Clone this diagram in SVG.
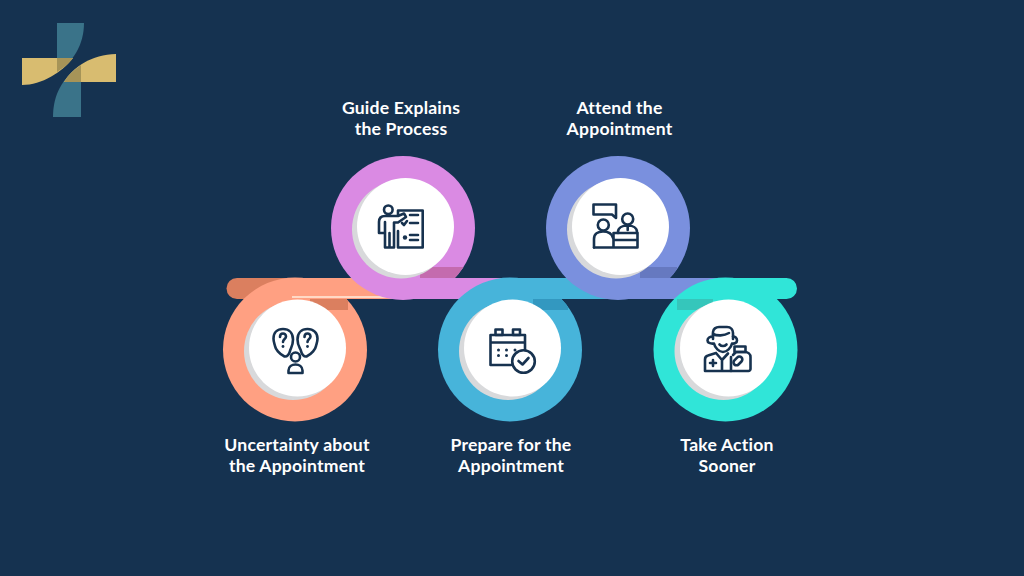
<svg xmlns="http://www.w3.org/2000/svg" width="1024" height="576" viewBox="0 0 1024 576">
<style>
.lbl{font-family:"Lato","Liberation Sans",sans-serif;font-weight:700;font-size:17.6px;letter-spacing:.2px;fill:#fff;text-anchor:middle}
.i{fill:none;stroke:#17324f;stroke-width:2.6;stroke-linecap:round;stroke-linejoin:round}
.d{fill:#17324f}
.sh{fill:#d8d9db}
.wh{fill:#fff}
</style>
<defs>
<clipPath id="c1"><circle cx="295" cy="349.5" r="72"/></clipPath>
<clipPath id="c2"><circle cx="403" cy="228" r="72"/></clipPath>
<clipPath id="c3"><circle cx="510" cy="349.5" r="72"/></clipPath>
<clipPath id="c4"><circle cx="618" cy="228" r="72"/></clipPath>
<clipPath id="c5"><circle cx="725.5" cy="349.5" r="72"/></clipPath>
</defs>
<rect width="1024" height="576" fill="#153250"/>
<g id="logo">
<path d="M57,23H84C84,45 73,62 57,72Z" fill="#3a7389"/>
<path d="M81,117H53C53,95 62,78 81,65Z" fill="#3a7389"/>
<path d="M22,58H73C62,72 42,85 22,85Z" fill="#d8bc70"/>
<path d="M116,54V82H64C72,68 92,54 116,54Z" fill="#d8bc70"/>
<path d="M57,58H73C68,65 63,68 57,72Z" fill="#a69458"/>
<path d="M81,65V82H64C68,75 74,70 81,65Z" fill="#a69458"/>
</g>
<g id="connectors">
<path d="M237,278H300V299H237A10.500,10.500 0 0 1 237,278Z" fill="#db7f5f"/>
</g>
<g id="node-uncertainty">
<circle cx="295" cy="349.500" r="72" fill="#ffa082"/>
<rect x="295" y="278" width="110" height="21" fill="#ffa082"/>
<rect x="292" y="296" width="110" height="2" fill="#ffd9c6"/>
<rect x="310" y="299" width="38" height="11" fill="#db7f5f" clip-path="url(#c1)"/>
<circle class="sh" cx="293" cy="351" r="49"/>
<circle class="wh" cx="297.500" cy="348" r="48.500"/>
<path class="i" d="M283,329C277,329 273.500,333 273.500,338.500C273.500,342 274.500,344 275,346C275.500,349 279,354 284.500,356.500C287,357 289.500,354 290,351C290.500,348.500 293,346 293,339.500C293,333 289,329 283,329Z"/>
<path class="i" d="M307.500,329C313.500,329 317.500,333 317.500,338.500C317.500,342 316.500,344 316,346C315.500,349 312,354 306.500,356.500C304,357 301.500,354 301,351C300.500,348.500 297.500,346 297.500,339.500C297.500,333 301.500,329 307.500,329Z"/>
<path class="i" d="M280,337C280,332.500 286,332.500 286,336.500C286,339 283,339 283,342M304.500,337C304.500,332.500 310.500,332.500 310.500,336.500C310.500,339 307.500,339 307.500,342"/>
<circle class="d" cx="283" cy="346.500" r="1.400"/><circle class="d" cx="307.500" cy="346.500" r="1.400"/>
<circle class="i" cx="295.500" cy="357" r="4.500"/>
<path class="i" d="M288.500,373V370.500C288.500,366.500 292,364.500 295.500,364.500C299,364.500 302.500,366.500 302.500,370.500V373Z"/>
</g>
<g id="node-guide">
<circle cx="403" cy="228" r="72" fill="#da8ae3"/>
<rect x="403" y="278" width="110" height="21" fill="#da8ae3"/>
<rect x="420" y="267" width="45" height="11" fill="#c46bae" clip-path="url(#c2)"/>
<circle class="sh" cx="401" cy="229.500" r="49"/>
<circle class="wh" cx="405.500" cy="226.500" r="48.500"/>
<circle class="i" cx="388.300" cy="209.800" r="4.300"/>
<path class="i" d="M398,216V210.500H422.700V247.500H398V231M379,233V222C379,218 381.500,216 385,216H398L404,213.500L406,217L398,222.500H394V247.500H385V233H379M385,222V233M389.500,233V247.500"/>
<path class="i" d="M410,215H418M410,223H418M410,235H418M410,240H418M402,223L404,225L407,221"/>
<circle class="d" cx="405" cy="237.500" r="2.200"/>
</g>
<g id="node-prepare">
<circle cx="510" cy="349.500" r="72" fill="#47b4da"/>
<rect x="510" y="278" width="110" height="21" fill="#47b4da"/>
<rect x="533" y="299" width="35" height="11" fill="#3398c0" clip-path="url(#c3)"/>
<circle class="sh" cx="508" cy="351" r="49"/>
<circle class="wh" cx="512.500" cy="348" r="48.500"/>
<path class="i" d="M511,365H490.500V335H525V350M490.500,342.500H525"/>
<rect class="i" x="495.500" y="329.500" width="7" height="5.500"/>
<rect class="i" x="513" y="329.500" width="7" height="5.500"/>
<circle class="i" cx="523.500" cy="361.500" r="11.300"/>
<path class="i" d="M518.500,361L522.500,364.500L528.500,358"/>
<g class="d"><circle cx="498.500" cy="350" r="1.500"/><circle cx="506.500" cy="350" r="1.500"/><circle cx="515" cy="350" r="1.500"/><circle cx="498.500" cy="355.500" r="1.500"/><circle cx="506.500" cy="355.500" r="1.500"/></g>
</g>
<g id="node-attend">
<circle cx="618" cy="228" r="72" fill="#7a90de"/>
<rect x="618" y="278" width="110" height="21" fill="#7a90de"/>
<rect x="640" y="267" width="37" height="11" fill="#6679c0" clip-path="url(#c4)"/>
<circle class="sh" cx="616" cy="229.500" r="49"/>
<circle class="wh" cx="620.500" cy="226.500" r="48.500"/>
<path class="i" d="M593.500,204.500H616V214.500V218L612,214.500H593.500Z"/>
<circle class="i" cx="603.300" cy="225" r="5.500"/>
<path class="i" d="M594,247.500V239C594,234 598,231.500 603,231.500C608,231.500 612,234 613,238"/>
<circle class="i" cx="627.700" cy="219" r="5.500"/>
<path class="i" d="M618,233V232C618,228 622,225.500 627.700,225.500C633,225.500 637,228 637,232V233M627.700,226V230"/>
<path class="i" d="M594,247.500H637.500V233H613.500V247.500M613.500,240H637.500"/>
</g>
<g id="node-action">
<circle cx="725.500" cy="349.500" r="72" fill="#30e5d8"/>
<path d="M725.500,278H786.500A10.500,10.500 0 0 1 786.500,299H740V330H725.500Z" fill="#30e5d8"/>
<rect x="677" y="299" width="36" height="11" fill="#35c6bb" clip-path="url(#c5)"/>
<circle class="sh" cx="723.500" cy="351" r="49"/>
<circle class="wh" cx="728.500" cy="348" r="48.500"/>
<path class="i" d="M713,339V332C713,329 716,327 719,327H727C731,327 733,330 733,333V339"/>
<path class="i" d="M713,334C717,336 724,336 729,333"/>
<path class="i" d="M713,336.500C710,336.500 707.500,338 707.500,340.500C707.500,342.500 710,344 714,343.500C715,348 719,352 723,352C727,352 731,348 732,343.500C735,344 737,342.500 737,340.500C737,338 735,336.500 733,336.500"/>
<path class="i" d="M719.500,344.500C721.500,346.500 724.500,346.500 726.500,344.500"/>
<path class="i" d="M716,353L708,355.500C706,356 705,357.500 705,359.500V371H731M716,353L722,360L728,353.500M722,360V371M731,357V371"/>
<path class="i" d="M713,360V366M710,363H716"/>
<path class="i" d="M731,371H748.500C749.500,371 750.500,370 750.500,369V357C750.500,354 748,352 745,352H736L733,355"/>
<rect class="i" x="734.500" y="346.500" width="11" height="5.500"/>
<rect class="i" x="733" y="358" width="10" height="5.800" rx="2.900" transform="rotate(-45 738 361)"/>
</g>
<g id="labels">
<text class="lbl" x="401" y="113.500">Guide Explains</text>
<text class="lbl" x="401" y="134.500">the Process</text>
<text class="lbl" x="619.500" y="113.500">Attend the</text>
<text class="lbl" x="619.500" y="134.500">Appointment</text>
<text class="lbl" x="297" y="450.500">Uncertainty about</text>
<text class="lbl" x="297" y="471.500">the Appointment</text>
<text class="lbl" x="511" y="450.500">Prepare for the</text>
<text class="lbl" x="511" y="471.500">Appointment</text>
<text class="lbl" x="727" y="450.500">Take Action</text>
<text class="lbl" x="727" y="471.500">Sooner</text>
</g>
</svg>
